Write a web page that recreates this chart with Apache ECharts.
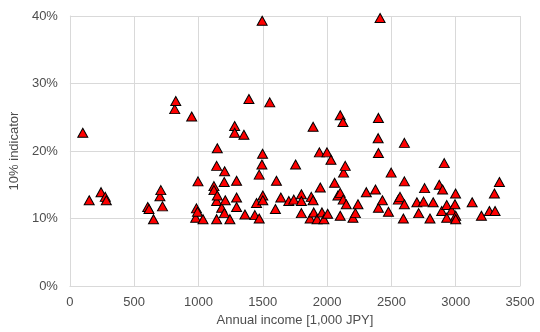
<!DOCTYPE html>
<html>
<head>
<meta charset="utf-8">
<script src="https://cdn.jsdelivr.net/npm/echarts@6/dist/echarts.min.js"></script>
<style>
  * { margin: 0; padding: 0; }
  body { background: #fff; }
</style>
</head>
<body>
<div id="chart" style="width: 540px; height: 332px"></div>
<script>
// annual income [1,000 JPY]
const incomes = [
  100, 150, 242, 275, 283, 605, 615, 650, 700, 707, 720, 815, 823, 947, 978, 984, 992, 996, 1035,
  1120, 1120, 1141, 1141, 1141, 1146, 1146, 1180, 1201, 1203, 1200, 1208, 1244, 1281, 1281, 1296,
  1296, 1296, 1353, 1361, 1392, 1438, 1451, 1472, 1472, 1495, 1498, 1493, 1500, 1500, 1554, 1598,
  1606, 1640, 1702, 1741, 1755, 1800, 1800, 1800, 1868, 1877, 1891, 1891, 1896, 1922, 1940, 1947,
  1960, 1975, 1999, 2004, 2030, 2058, 2084, 2102, 2102, 2102, 2123, 2125, 2128, 2141, 2149, 2201,
  2220, 2240, 2305, 2376, 2397, 2399, 2399, 2399, 2412, 2430, 2477, 2498, 2554, 2567, 2593, 2601,
  2601, 2601, 2698, 2712, 2750, 2758, 2800, 2825, 2872, 2891, 2898, 2911, 2930, 2930, 2968, 2994,
  2999, 3000, 3000, 3128, 3200, 3262, 3306, 3301, 3340
];
// 10% indicator [%]
const indicators = [
  22.7, 12.7, 13.9, 13.2, 12.7, 11.7, 11.4, 9.9, 13.3, 14.2, 11.8, 26.2, 27.4, 25.1, 10.1, 11.5, 11.0, 15.5, 9.9,
  14.8, 14.2, 12.6, 9.9, 17.8, 13.4, 20.4, 11.6, 10.8, 17.0, 15.4, 12.7, 9.9, 23.7, 22.7, 15.6,
  13.1, 11.7, 22.4, 10.6, 27.7, 10.5, 12.3, 10.0, 16.5, 39.3, 19.6, 18.0, 13.4, 12.7, 27.2, 11.4,
  15.6, 13.1, 12.6, 12.8, 18.0, 13.6, 12.6, 10.8, 10.0, 13.2, 12.7, 23.6, 10.9, 9.9, 19.8, 14.6,
  10.9, 9.9, 19.8, 10.7, 18.7, 15.3, 13.4, 13.8, 10.4, 25.3, 24.3, 12.8, 16.8, 17.8, 12.1, 10.1,
  10.8, 12.1, 13.9, 14.3, 21.9, 24.9, 19.7, 11.6, 39.7, 12.7, 11.0, 16.8, 12.8, 13.2, 10.0, 21.2,
  15.5, 12.1, 12.4, 10.8, 12.5, 14.5, 10.0, 12.4, 15.0, 11.1, 14.3, 18.2, 12.0, 10.1, 11.2, 12.1,
  13.7, 10.4, 9.9, 12.4, 10.4, 11.1, 11.1, 13.7, 15.4
];
const xTicks = { min: 0, max: 3500, interval: 500 };
const yTicks = { min: 0, max: 40, interval: 10 };

const points = incomes.map((x, i) => [x, indicators[i]]);

const chart = echarts.init(document.getElementById("chart"));
const textColor = "#4d4d4d";
const gridColor = "#d9d9d9";
const font = "'Liberation Sans', Arial, sans-serif";

chart.setOption({
  animation: false,
  textStyle: { fontFamily: font },
  grid: { left: 69, right: 20, top: 16, bottom: 46 },
  xAxis: {
    type: "value",
    min: xTicks.min,
    max: xTicks.max,
    interval: xTicks.interval,
    name: "Annual income [1,000 JPY]",
    nameLocation: "middle",
    nameGap: 28,
    nameTextStyle: { color: textColor, fontSize: 13, fontFamily: font },
    axisLine: { show: true, lineStyle: { color: gridColor } },
    axisTick: { show: false },
    axisLabel: {
      color: textColor,
      fontSize: 13,
      margin: 10,
      fontFamily: font,
      formatter: (v) => String(v),
    },
    splitLine: { show: true, lineStyle: { color: gridColor, width: 1 } },
  },
  yAxis: {
    type: "value",
    min: yTicks.min,
    max: yTicks.max,
    interval: yTicks.interval,
    name: "10% indicator",
    nameLocation: "middle",
    nameGap: 41,
    nameTextStyle: { color: textColor, fontSize: 13, fontFamily: font },
    axisLine: { show: true, lineStyle: { color: gridColor } },
    axisTick: { show: false },
    axisLabel: { color: textColor, fontSize: 13, margin: 12, formatter: "{value}%", fontFamily: font },
    splitLine: { show: true, lineStyle: { color: gridColor, width: 1 } },
  },
  series: [
    {
      type: "scatter",
      data: points,
      symbol: "triangle",
      symbolSize: [10, 9],
      itemStyle: { color: "#ff0000", borderColor: "#000000", borderWidth: 1, opacity: 1 },
    },
  ],
});
</script>
</body>
</html>
